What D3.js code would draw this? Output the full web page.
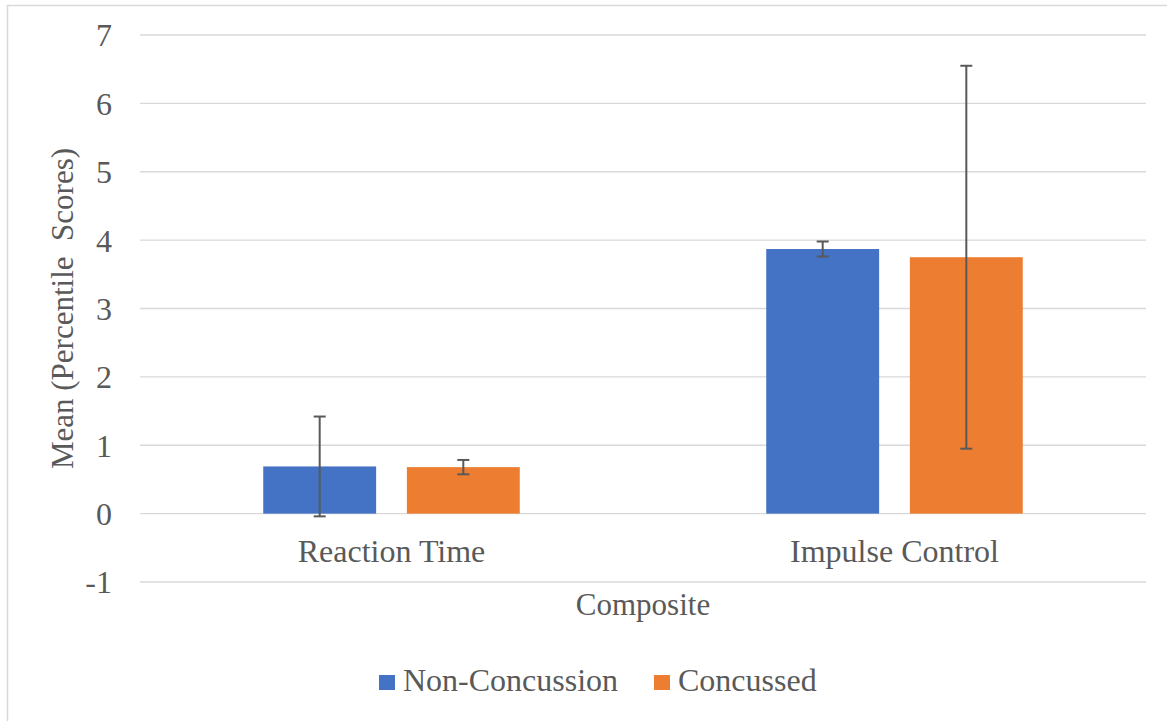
<!DOCTYPE html>
<html><head><meta charset="utf-8">
<script src="https://cdn.jsdelivr.net/npm/d3@7"></script>
<style>
html,body{margin:0;padding:0;background:#fff;}
text{font-family:"Liberation Serif","Times New Roman",serif;fill:#595959;}
</style></head>
<body><svg id="chart" width="1167" height="721"></svg>
<script>
const categories = ["Reaction Time", "Impulse Control"];
const seriesNames = ["Non-Concussion", "Concussed"];
const nonConcussion = [0.69, 3.87];
const concussed = [0.68, 3.75];
const nonConcussionErr = [0.73, 0.11];
const concussedErr = [0.105, 2.80];
const yTicks = [-1, 0, 1, 2, 3, 4, 5, 6, 7];
const yTickLabels = ["-1", "0", "1", "2", "3", "4", "5", "6", "7"];
const colors = ["#4472C4", "#ED7D31"];

const svg = d3.select("#chart");
const W = 1167, H = 721;
const plot = {left: 140, right: 1146, top: 35, bottom: 582};

svg.append("rect").attr("x", 7.5).attr("y", 5.5).attr("width", W + 10).attr("height", H + 10)
  .attr("fill", "#fff").attr("stroke", "#d9d9d9").attr("stroke-width", 1.5);

const y = d3.scaleLinear().domain([-1, 7]).range([plot.bottom, plot.top]);
const x0 = d3.scaleBand().domain(categories).range([plot.left, plot.right]).padding(0);
const bw = x0.bandwidth();
const x1 = d3.scaleBand().domain(seriesNames).range([bw * 0.245, bw * 0.755]).paddingInner(0.214).paddingOuter(0);

// gridlines
svg.append("g").selectAll("line").data(yTicks).join("line")
  .attr("x1", plot.left).attr("x2", plot.right)
  .attr("y1", d => y(d)).attr("y2", d => y(d))
  .attr("stroke", "#d9d9d9").attr("stroke-width", 1.3);

// y tick labels
const yAxis = d3.axisLeft(y).tickValues(yTicks).tickSize(0).tickPadding(0)
  .tickFormat((d, i) => yTickLabels[i]);
const gy = svg.append("g").attr("transform", `translate(112,0)`).call(yAxis);
gy.attr("font-family", null);
gy.select(".domain").remove();
gy.selectAll("text").attr("font-size", 32).attr("fill", "#595959")
  .style("font-family", '"Liberation Serif","Times New Roman",serif').attr("dy", "0.34em");

// bars
const data = categories.map((c, i) => ({
  cat: c,
  vals: [
    {s: seriesNames[0], v: nonConcussion[i], e: nonConcussionErr[i], c: colors[0]},
    {s: seriesNames[1], v: concussed[i], e: concussedErr[i], c: colors[1]}
  ]
}));
const groups = svg.append("g").selectAll("g").data(data).join("g")
  .attr("transform", d => `translate(${x0(d.cat)},0)`);
groups.selectAll("rect").data(d => d.vals).join("rect")
  .attr("x", d => x1(d.s)).attr("width", x1.bandwidth())
  .attr("y", d => y(Math.max(0, d.v))).attr("height", d => Math.abs(y(d.v) - y(0)))
  .attr("fill", d => d.c);

// error bars
const eb = groups.selectAll("g.err").data(d => d.vals).join("g").attr("class", "err");
const cx = d => x1(d.s) + x1.bandwidth() / 2;
eb.append("line").attr("x1", cx).attr("x2", cx)
  .attr("y1", d => y(d.v + d.e)).attr("y2", d => y(d.v - d.e))
  .attr("stroke", "#595959").attr("stroke-width", 2);
eb.append("line").attr("x1", d => cx(d) - 6).attr("x2", d => cx(d) + 6)
  .attr("y1", d => y(d.v + d.e)).attr("y2", d => y(d.v + d.e))
  .attr("stroke", "#595959").attr("stroke-width", 2);
eb.append("line").attr("x1", d => cx(d) - 6).attr("x2", d => cx(d) + 6)
  .attr("y1", d => y(d.v - d.e)).attr("y2", d => y(d.v - d.e))
  .attr("stroke", "#595959").attr("stroke-width", 2);

// category labels
svg.append("g").selectAll("text").data(categories).join("text")
  .attr("x", d => x0(d) + bw / 2).attr("y", 562)
  .attr("text-anchor", "middle").attr("font-size", 32).text(d => d);

// axis titles
svg.append("text").attr("x", (plot.left + plot.right) / 2).attr("y", 615)
  .attr("text-anchor", "middle").attr("font-size", 31).text("Composite");
svg.append("text").attr("transform", `translate(73,${(plot.top + plot.bottom) / 2}) rotate(-90)`)
  .attr("text-anchor", "middle").attr("font-size", 31).style("white-space", "pre")
  .text("Mean (Percentile  Scores)");

// legend
const legendX = [379, 654];
const lg = svg.append("g").selectAll("g").data(seriesNames).join("g")
  .attr("transform", (d, i) => `translate(${legendX[i]},675)`);
lg.append("rect").attr("width", 16).attr("height", 15).attr("fill", (d, i) => colors[i]);
lg.append("text").attr("x", 24).attr("y", 16).attr("font-size", 32).text(d => d);
</script>
</body></html>
